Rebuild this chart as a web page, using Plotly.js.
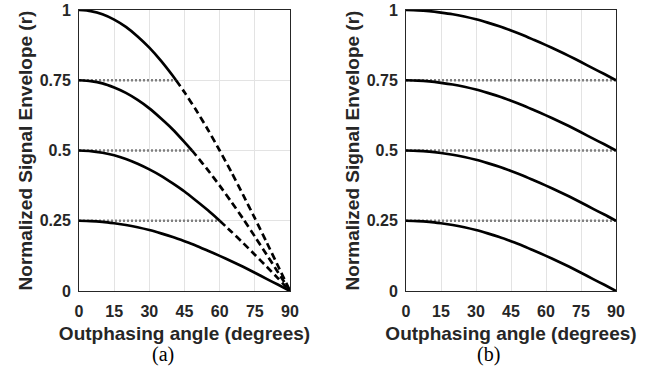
<!DOCTYPE html>
<html>
<head>
<meta charset="utf-8">
<script src="https://cdn.plot.ly/plotly-3.0.1.min.js"></script>
<style>html,body{margin:0;padding:0;background:#fff;}#chart{width:653px;height:378px;}</style>
</head>
<body>
<div id="chart"></div>
<script>
// ---- data ----
const angle = [0,5,10,15,20,25,30,35,40,45,50,55,60,65,70,75,80,85,90];

// panel (a): solid parts
const aX1 = [0,5,10,15,20,25,30,35,40,41.4];
const aY1 = [1,0.996,0.985,0.966,0.940,0.906,0.866,0.819,0.766,0.75];
const aX2 = [0,5,10,15,20,25,30,35,40,45,48.2];
const aY2 = [0.75,0.747,0.739,0.724,0.705,0.680,0.650,0.614,0.575,0.530,0.5];
const aX3 = [0,5,10,15,20,25,30,35,40,45,50,55,60];
const aY3 = [0.5,0.498,0.492,0.483,0.470,0.453,0.433,0.410,0.383,0.354,0.321,0.287,0.25];
const aY4 = [0.25,0.249,0.246,0.241,0.235,0.227,0.217,0.205,0.192,0.177,0.161,0.143,0.125,0.106,0.086,0.065,0.043,0.022,0];

// panel (a): dashed continuations
const dX1 = [41.4,45,50,55,60,65,70,75,80,85,90];
const dY1 = [0.75,0.707,0.643,0.574,0.5,0.423,0.342,0.259,0.174,0.087,0];
const dX2 = [48.2,50,55,60,65,70,75,80,85,90];
const dY2 = [0.5,0.482,0.430,0.375,0.317,0.257,0.194,0.130,0.065,0];
const dX3 = [60,65,70,75,80,85,90];
const dY3 = [0.25,0.211,0.171,0.129,0.087,0.044,0];

// panel (a): dotted reference levels (level, end angle)
const levelsA = [0.75,0.5,0.25];
const levelEndA = [41.4,48.2,60];

// panel (b)
const bY1 = [1,0.999,0.996,0.991,0.985,0.977,0.967,0.955,0.942,0.927,0.911,0.893,0.875,0.856,0.836,0.815,0.793,0.772,0.75];
const bY2 = [0.75,0.749,0.746,0.741,0.735,0.727,0.717,0.705,0.692,0.677,0.661,0.643,0.625,0.606,0.586,0.565,0.543,0.522,0.5];
const bY3 = [0.5,0.499,0.496,0.491,0.485,0.477,0.467,0.455,0.442,0.427,0.411,0.393,0.375,0.356,0.336,0.315,0.293,0.272,0.25];
const bY4 = [0.25,0.249,0.246,0.241,0.235,0.227,0.217,0.205,0.192,0.177,0.161,0.143,0.125,0.106,0.086,0.065,0.043,0.022,0];
const levelsB = [0.75,0.5,0.25];

const xTicks = [0,15,30,45,60,75,90];
const yTicks = [0,0.25,0.5,0.75,1];
const yTickText = ['0','0.25','0.5','0.75','1'];

// ---- styles ----
const solid = {color:'#000', width:2.7, shape:'spline', smoothing:0.6};
const dashed = {color:'#000', width:2.7, dash:'7px,4px', shape:'spline', smoothing:0.6};
const dotted = {color:'#808080', width:2.4, dash:'2px,2px'};

const traces = [];
levelsA.forEach((lv,i)=>{
  traces.push({x:[0,levelEndA[i]], y:[lv,lv], mode:'lines', line:dotted, xaxis:'x', yaxis:'y', hoverinfo:'skip'});
});
levelsB.forEach(lv=>{
  traces.push({x:[0,90], y:[lv,lv], mode:'lines', line:dotted, xaxis:'x2', yaxis:'y2', hoverinfo:'skip'});
});
[[aX1,aY1],[aX2,aY2],[aX3,aY3],[angle,aY4]].forEach(p=>{
  traces.push({x:p[0], y:p[1], mode:'lines', line:solid, xaxis:'x', yaxis:'y'});
});
[[dX1,dY1],[dX2,dY2],[dX3,dY3]].forEach(p=>{
  traces.push({x:p[0], y:p[1], mode:'lines', line:dashed, xaxis:'x', yaxis:'y'});
});
[bY1,bY2,bY3,bY4].forEach(y=>{
  traces.push({x:angle, y:y, mode:'lines', line:solid, xaxis:'x2', yaxis:'y2'});
});

const tickFont = {family:'Liberation Sans, Arial, sans-serif', size:16, color:'#262626', weight:'bold'};
const titleFont = {family:'Liberation Sans, Arial, sans-serif', size:19, color:'#262626', weight:'bold'};

function xax(domain){
  return {domain:domain, range:[0,90], tickvals:xTicks, ticktext:xTicks.map(String),
    showgrid:true, gridcolor:'#e3e3e3', gridwidth:1, zeroline:false,
    showline:true, linecolor:'#262626', linewidth:1, mirror:true, ticks:'',
    tickfont:tickFont, ticklabelstandoff:6,
    title:{text:'Outphasing angle (degrees)', font:titleFont, standoff:7}};
}
function yax(anchor){
  return {domain:[0.2302,0.9735], range:[0,1], tickvals:yTicks, ticktext:yTickText,
    showgrid:true, gridcolor:'#e3e3e3', gridwidth:1, zeroline:false,
    showline:true, linecolor:'#262626', linewidth:1, mirror:true, ticks:'',
    tickfont:tickFont, ticklabelstandoff:4, anchor:anchor,
    title:{text:'Normalized Signal Envelope (r)', font:titleFont, standoff:2}};
}

const layout = {
  width:653, height:378, showlegend:false,
  paper_bgcolor:'#fff', plot_bgcolor:'#fff',
  margin:{l:0,r:0,t:0,b:0},
  xaxis: Object.assign(xax([79/653,290/653]), {anchor:'y'}),
  yaxis: yax('x'),
  xaxis2: Object.assign(xax([406/653,616/653]), {anchor:'y2'}),
  yaxis2: yax('x2'),
  annotations:[
    {text:'(a)', xref:'paper', yref:'paper', x:163/653, y:1-354/378, showarrow:false,
     font:{family:'Liberation Serif, Times New Roman, serif', size:20, color:'#000'}, xanchor:'center', yanchor:'middle'},
    {text:'(b)', xref:'paper', yref:'paper', x:488/653, y:1-354/378, showarrow:false,
     font:{family:'Liberation Serif, Times New Roman, serif', size:20, color:'#000'}, xanchor:'center', yanchor:'middle'}
  ]
};

Plotly.newPlot('chart', traces, layout, {displayModeBar:false, staticPlot:true});
</script>
</body>
</html>
